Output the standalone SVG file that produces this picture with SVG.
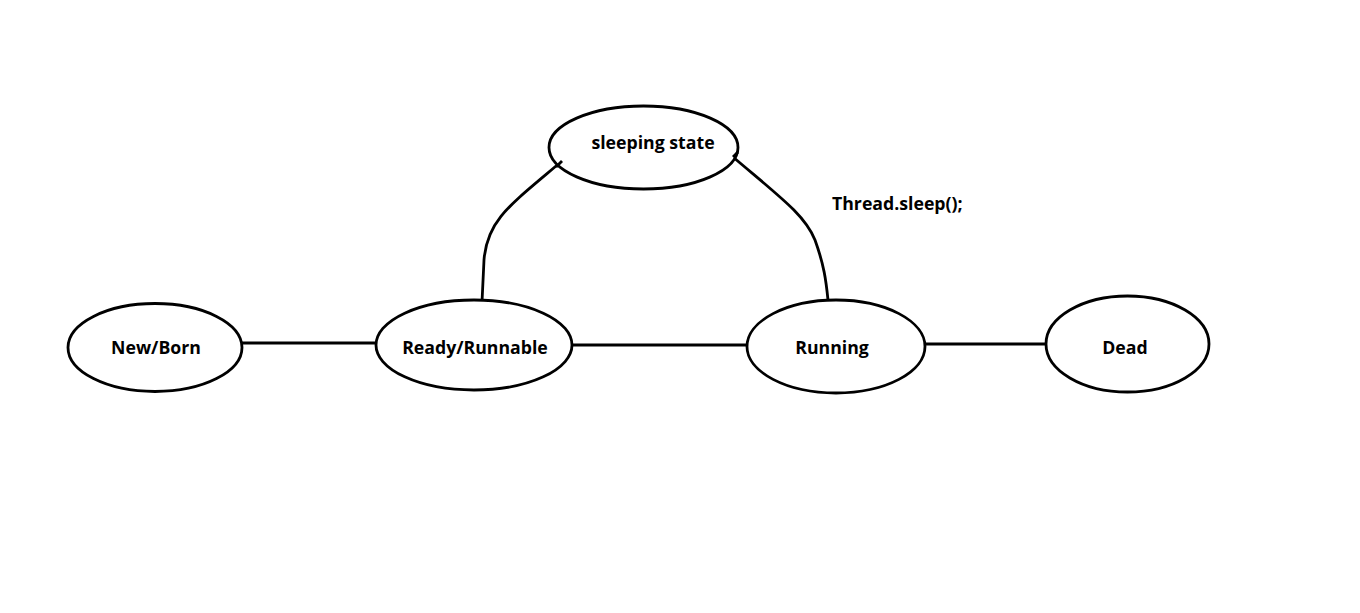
<svg xmlns="http://www.w3.org/2000/svg" width="1360" height="613" viewBox="0 0 1360 613">
<style>
.n{fill:#fff;stroke:#000;stroke-width:2.8}
.c{fill:none;stroke:#000;stroke-width:2.8}
text{font-family:"Open Sans","Noto Sans",sans-serif;font-weight:bold;font-size:17.7px;fill:#000}
.m{text-anchor:middle}
</style>
<rect width="1360" height="613" fill="#fff"/>
<g id="connectors">
<path class="c" d="M242 343 H376"/>
<path class="c" d="M572 345 H749"/>
<path class="c" d="M925 344 H1048"/>
<path class="c" d="M562 161 C510 205 487 220 484 260 L482 302"/>
<path class="c" d="M733 157 C780 197 805 215 815 240 C824 265 826 280 828 300"/>
</g>
<g id="newborn"><ellipse class="n" cx="155" cy="347.5" rx="87" ry="44"/><text class="m" x="156" y="354">New/Born</text></g>
<g id="ready"><ellipse class="n" cx="474" cy="345" rx="98" ry="45"/><text class="m" x="475" y="354">Ready/Runnable</text></g>
<g id="running"><ellipse class="n" cx="836" cy="346.5" rx="89" ry="46.5"/><text class="m" x="832" y="354">Running</text></g>
<g id="dead"><ellipse class="n" cx="1127.5" cy="344" rx="81.5" ry="48"/><text class="m" x="1125" y="354">Dead</text></g>
<g id="sleeping"><ellipse class="n" cx="643.5" cy="147.5" rx="94.5" ry="41.5"/><text class="m" x="653" y="149">sleeping state</text></g>
<path class="c" d="M562 161 L556 167"/>
<path class="c" d="M733 157 L738 152"/>
<text x="832" y="210">Thread.sleep();</text>
</svg>
